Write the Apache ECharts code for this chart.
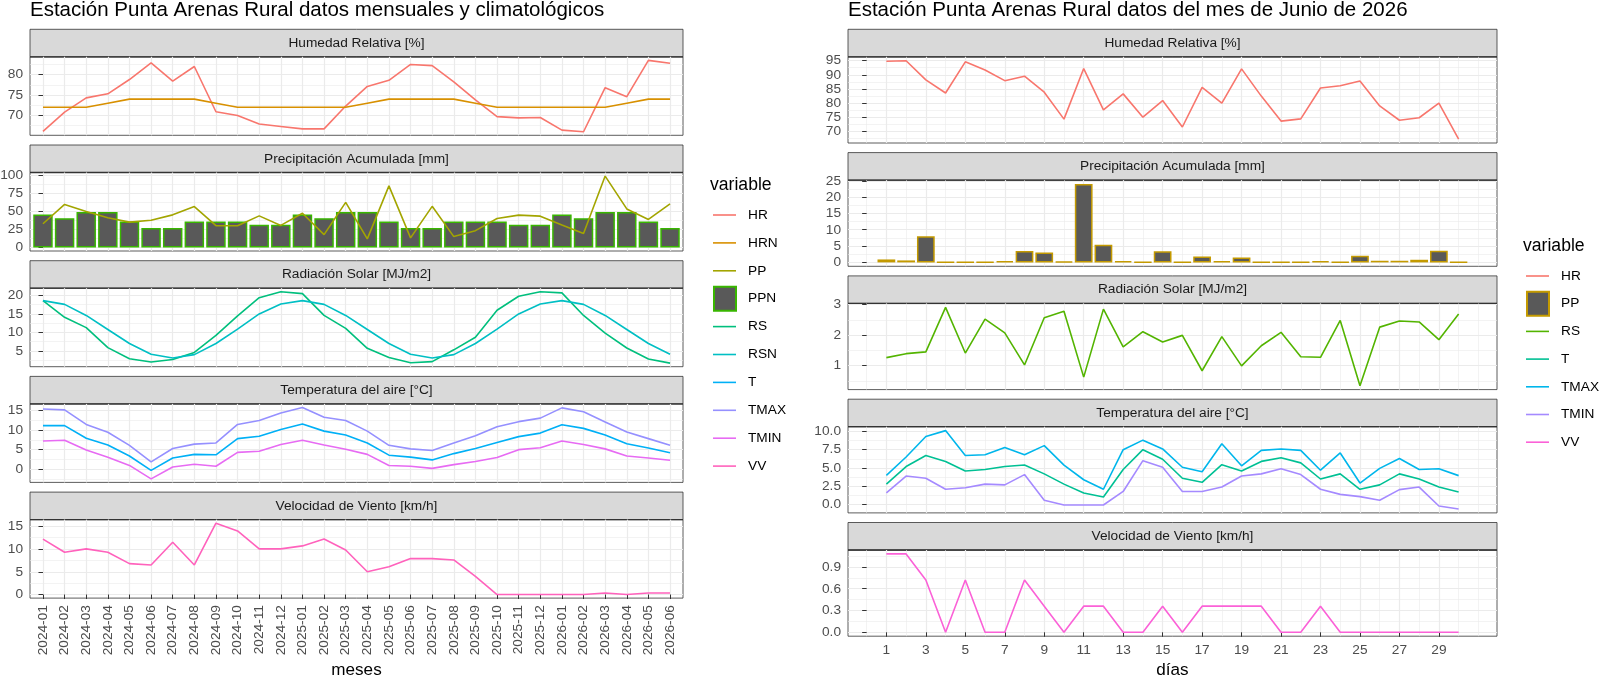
<!DOCTYPE html>
<html>
<head>
<meta charset="utf-8">
<title>Estación Punta Arenas Rural</title>
<script src="https://cdn.jsdelivr.net/npm/echarts@6/dist/echarts.min.js"></script>
<style>
html, body { margin: 0; padding: 0; background: #fff; }
#chart { width: 1600px; height: 676px; }
</style>
</head>
<body>
<div id="chart"></div>
<script>
// ---------- datos mensuales ----------
var months = ['2024-01','2024-02','2024-03','2024-04','2024-05','2024-06','2024-07','2024-08','2024-09','2024-10','2024-11','2024-12',
              '2025-01','2025-02','2025-03','2025-04','2025-05','2025-06','2025-07','2025-08','2025-09','2025-10','2025-11','2025-12',
              '2026-01','2026-02','2026-03','2026-04','2026-05','2026-06'];
var hrMes   = [66.1, 70.8, 74.3, 75.3, 78.8, 82.9, 78.4, 82.0, 70.9, 70.0, 67.9, 67.3, 66.7, 66.7, 72.3, 77.1, 78.6, 82.5, 82.2, 78.2, 73.8, 69.7, 69.4, 69.5, 66.4, 66.0, 76.8, 74.6, 83.5, 82.8];
var hrnMes  = [72, 72, 72, 73, 74, 74, 74, 74, 73, 72, 72, 72, 72, 72, 72, 73, 74, 74, 74, 74, 73, 72, 72, 72, 72, 72, 72, 73, 74, 74];
var ppMes   = [33, 60, 50, 41.3, 35.3, 38, 45.4, 56.9, 30.3, 30.3, 44, 30.7, 47.7, 17.9, 62.8, 11.9, 85.8, 13.3, 57.3, 15.1, 23.4, 40.4, 45, 43.6, 31.2, 19.3, 99.5, 53.7, 39, 60.6];
var ppnMes  = [45.9, 40.8, 49.5, 49.5, 36, 27, 27, 36, 36, 36, 31.7, 31.7, 45.9, 40.8, 49.5, 49.5, 36, 27, 27, 36, 36, 36, 31.7, 31.7, 45.9, 40.8, 49.5, 49.5, 36, 27];
var rsMes   = [18.6, 14.1, 11.3, 5.9, 2.9, 2.0, 2.7, 4.6, 9.2, 14.5, 19.4, 21.0, 20.5, 14.6, 11.1, 5.7, 3.2, 1.8, 2.1, 5.3, 8.7, 16.0, 19.8, 21.0, 20.7, 14.6, 9.8, 5.8, 2.8, 1.7];
var rsnMes  = [18.6, 17.6, 14.6, 10.8, 7.0, 4.1, 3.1, 4.0, 7.0, 10.9, 15.0, 17.7, 18.6, 17.6, 14.6, 10.8, 7.0, 4.1, 3.1, 4.0, 7.0, 10.9, 15.0, 17.7, 18.6, 17.6, 14.6, 10.8, 7.0, 4.1];
var tMes    = [11.1, 11.1, 7.9, 6.2, 3.4, -0.25, 2.9, 3.8, 3.7, 7.8, 8.4, 10.1, 11.5, 9.7, 8.7, 6.7, 3.6, 3.1, 2.4, 4.0, 5.3, 6.8, 8.3, 9.2, 11.3, 10.4, 8.7, 6.5, 5.4, 4.2];
var tmaxMes = [15.3, 15.1, 11.4, 9.4, 6.1, 1.9, 5.3, 6.4, 6.7, 11.4, 12.4, 14.3, 15.7, 13.2, 12.4, 9.7, 6.1, 5.2, 4.8, 6.7, 8.5, 10.8, 12.1, 13.0, 15.6, 14.6, 12.0, 9.5, 7.8, 6.1];
var tminMes = [7.2, 7.4, 4.9, 3.1, 1.0, -2.4, 0.6, 1.3, 0.8, 4.3, 4.6, 6.3, 7.4, 6.2, 5.1, 3.8, 1.0, 0.8, 0.25, 1.2, 2.0, 3.0, 5.0, 5.5, 7.2, 6.3, 5.2, 3.4, 2.9, 2.3];
var vvMes   = [12.2, 9.3, 10.05, 9.3, 6.8, 6.5, 11.5, 6.5, 15.7, 14.0, 10.05, 10.05, 10.7, 12.2, 9.8, 5.0, 6.1, 7.9, 7.9, 7.6, 4.0, 0, 0, 0, 0, 0, 0.35, 0, 0.35, 0.35];

// ---------- datos diarios (junio 2026) ----------
var dias    = [1,2,3,4,5,6,7,8,9,10,11,12,13,14,15,16,17,18,19,20,21,22,23,24,25,26,27,28,29,30];
var hrDia   = [94.8, 95.0, 88.2, 83.5, 94.6, 91.7, 87.9, 89.5, 83.8, 74.2, 92.2, 77.5, 83.2, 74.9, 80.8, 71.4, 85.5, 79.9, 92.1, 82.4, 73.5, 74.3, 85.3, 86.1, 87.8, 78.9, 73.8, 74.7, 79.9, 67.1];
var ppDia   = [0.9, 0.6, 8.0, 0.1, 0.1, 0.1, 0.4, 3.5, 3.0, 0.3, 24.0, 5.4, 0.4, 0.1, 3.4, 0.1, 1.8, 0.4, 1.5, 0.1, 0.1, 0.1, 0.4, 0.1, 2.0, 0.5, 0.5, 0.8, 3.6, 0.1];
var rsDia   = [1.26, 1.39, 1.45, 2.91, 1.41, 2.52, 2.07, 1.02, 2.57, 2.78, 0.62, 2.85, 1.61, 2.11, 1.77, 1.99, 0.83, 1.95, 0.99, 1.65, 2.09, 1.29, 1.27, 2.48, 0.34, 2.26, 2.46, 2.43, 1.85, 2.69];
var tDia    = [2.8, 5.2, 6.7, 5.9, 4.6, 4.8, 5.2, 5.4, 4.2, 2.8, 1.6, 1.05, 4.8, 7.5, 6.2, 3.6, 3.05, 5.45, 4.6, 5.9, 6.4, 5.7, 3.5, 4.2, 2.1, 2.7, 4.2, 3.5, 2.4, 1.73];
var tmaxDia = [4.0, 6.5, 9.3, 10.1, 6.7, 6.8, 7.8, 6.8, 8.05, 5.4, 3.4, 2.1, 7.5, 8.8, 7.6, 5.1, 4.5, 8.3, 5.3, 7.4, 7.6, 7.4, 4.7, 7.05, 2.95, 4.95, 6.3, 4.8, 4.9, 3.96];
var tminDia = [1.6, 3.9, 3.6, 2.1, 2.3, 2.8, 2.7, 4.1, 0.6, -0.05, -0.05, -0.05, 1.8, 6.0, 5.1, 1.8, 1.8, 2.4, 3.9, 4.2, 4.9, 4.1, 2.1, 1.4, 1.1, 0.6, 2.05, 2.4, -0.18, -0.59];
var vvDia   = [1.08, 1.08, 0.72, 0, 0.72, 0, 0, 0.72, 0.36, 0, 0.36, 0.36, 0, 0, 0.36, 0, 0.36, 0.36, 0.36, 0.36, 0, 0, 0.36, 0, 0, 0, 0, 0, 0, 0];

// ---------- marcas de los ejes ----------
var yTicksMes = [[70, 75, 80], [0, 25, 50, 75, 100], [5, 10, 15, 20], [0, 5, 10, 15], [0, 5, 10, 15]];
var yTicksDia = [[70, 75, 80, 85, 90, 95], [0, 5, 10, 15, 20, 25], [1, 2, 3], [0, 2.5, 5, 7.5, 10], [0, 0.3, 0.6, 0.9]];
var xTicksDia = [1, 3, 5, 7, 9, 11, 13, 15, 17, 19, 21, 23, 25, 27, 29];
var xMinorDia = [0, 2, 4, 6, 8, 10, 12, 14, 16, 18, 20, 22, 24, 26, 28, 30, 31];

var FONT = '"Liberation Sans", Arial, sans-serif';

var facetsMes = [
    {titulo: 'Humedad Relativa [%]', dec: 0, series: [{n: 'HR', d: hrMes, c: '#F8766D'}, {n: 'HRN', d: hrnMes, c: '#D89000'}]},
    {titulo: 'Precipitación Acumulada [mm]', dec: 0, series: [{n: 'PPN', d: ppnMes, c: '#39B600', bar: true}, {n: 'PP', d: ppMes, c: '#A3A500'}]},
    {titulo: 'Radiación Solar [MJ/m2]', dec: 0, series: [{n: 'RS', d: rsMes, c: '#00BF7D'}, {n: 'RSN', d: rsnMes, c: '#00BFC4'}]},
    {titulo: 'Temperatura del aire [°C]', dec: 0, series: [{n: 'T', d: tMes, c: '#00B0F6'}, {n: 'TMAX', d: tmaxMes, c: '#9590FF'}, {n: 'TMIN', d: tminMes, c: '#E76BF3'}]},
    {titulo: 'Velocidad de Viento [km/h]', dec: 0, series: [{n: 'VV', d: vvMes, c: '#FF62BC'}]}
];
var facetsDia = [
    {titulo: 'Humedad Relativa [%]', dec: 0, series: [{n: 'HR', d: hrDia, c: '#F8766D'}]},
    {titulo: 'Precipitación Acumulada [mm]', dec: 0, series: [{n: 'PP', d: ppDia, c: '#C49A00', bar: true}]},
    {titulo: 'Radiación Solar [MJ/m2]', dec: 0, series: [{n: 'RS', d: rsDia, c: '#53B400'}]},
    {titulo: 'Temperatura del aire [°C]', dec: 1, series: [{n: 'T', d: tDia, c: '#00C094'}, {n: 'TMAX', d: tmaxDia, c: '#00B6EB'}, {n: 'TMIN', d: tminDia, c: '#A58AFF'}]},
    {titulo: 'Velocidad de Viento [km/h]', dec: 1, series: [{n: 'VV', d: vvDia, c: '#FB61D7'}]}
];

// rango con expansion del 5% (como ggplot)
function rango(arrs, conCero) {
    var lo = Infinity, hi = -Infinity;
    arrs.forEach(function (a) {
        a.forEach(function (v) { lo = Math.min(lo, v); hi = Math.max(hi, v); });
    });
    if (conCero) { lo = Math.min(lo, 0); hi = Math.max(hi, 0); }
    var e = (hi - lo) * 0.05;
    return [lo - e, hi + e];
}

// lineas menores a mitad de camino entre marcas
function menores(ticks, r) {
    var paso = (ticks[1] - ticks[0]) / 2;
    var out = [];
    for (var k = -2; k <= (ticks.length - 1) * 2 + 2; k++) {
        if (k % 2 === 0 && k >= 0 && k <= (ticks.length - 1) * 2) continue;
        var v = Math.round((ticks[0] + k * paso) * 1e6) / 1e6;
        if (v >= r[0] && v <= r[1]) out.push(v);
    }
    return out;
}

var grids = [], xAxes = [], yAxes = [], series = [], graphics = [];

function armarPanel(pref, facets, yTicks, panel, xs, eje) {
    facets.forEach(function (f, i) {
        var stripTop = panel.top0 + i * panel.step;
        var plotTop = stripTop + panel.strip;
        var g = grids.length;
        var ultimo = i === facets.length - 1;
        grids.push({
            left: panel.x, top: plotTop, width: panel.w, height: panel.h,
            show: true, backgroundColor: '#fff', borderColor: '#333', borderWidth: 0.8,
            outerBoundsMode: 'none'
        });

        var xi = xAxes.length;
        xAxes.push({
            gridIndex: g, type: 'value', min: eje.min, max: eje.max, position: 'bottom',
            axisLine: {show: false},
            axisTick: {show: ultimo, customValues: eje.major, length: 4.5, lineStyle: {color: '#333', width: 1}},
            axisLabel: {
                show: ultimo, customValues: eje.major, formatter: eje.fmt, rotate: eje.rotate,
                margin: 7, color: '#4D4D4D', fontSize: 13.7, fontFamily: FONT
            },
            splitLine: {show: true, lineStyle: {color: '#EBEBEB', width: 1.2}}
        });
        if (eje.minor) {
            xAxes.push({
                gridIndex: g, type: 'value', min: eje.min, max: eje.max, position: 'top',
                axisLine: {show: false}, axisTick: {show: false, customValues: eje.minor},
                axisLabel: {show: false},
                splitLine: {show: true, lineStyle: {color: '#EBEBEB', width: 0.6}}
            });
        }

        var r = rango(f.series.map(function (s) { return s.d; }), f.series.some(function (s) { return s.bar; }));
        var ticks = yTicks[i];
        var yi = yAxes.length;
        yAxes.push({
            gridIndex: g, type: 'value', min: r[0], max: r[1], position: 'left',
            axisLine: {show: false},
            axisTick: {show: true, customValues: ticks, length: 4.5, lineStyle: {color: '#333', width: 1}},
            axisLabel: {
                customValues: ticks, margin: 7, color: '#4D4D4D', fontSize: 13.7, fontFamily: FONT,
                formatter: function (v) { return v.toFixed(f.dec); }
            },
            splitLine: {show: true, lineStyle: {color: '#EBEBEB', width: 1.2}}
        });
        yAxes.push({
            gridIndex: g, type: 'value', min: r[0], max: r[1], position: 'right',
            axisLine: {show: false}, axisTick: {show: false, customValues: menores(ticks, r)},
            axisLabel: {show: false},
            splitLine: {show: true, lineStyle: {color: '#EBEBEB', width: 0.6}}
        });

        f.series.forEach(function (s) {
            var pares = s.d.map(function (v, j) { return [xs[j], v]; });
            if (s.bar) {
                series.push({
                    type: 'bar', name: pref + s.n, xAxisIndex: xi, yAxisIndex: yi, data: pares,
                    barWidth: '90%', silent: true, z: 2,
                    itemStyle: {color: '#595959', borderColor: s.c, borderWidth: 1.5}
                });
            } else {
                series.push({
                    type: 'line', name: pref + s.n, xAxisIndex: xi, yAxisIndex: yi, data: pares,
                    symbol: 'none', silent: true, z: 3,
                    lineStyle: {color: s.c, width: 1.6}, itemStyle: {color: s.c}
                });
            }
        });

        // franja del titulo de la faceta
        graphics.push({
            type: 'rect', silent: true,
            shape: {x: panel.x, y: stripTop, width: panel.w, height: panel.strip},
            style: {fill: '#D9D9D9', stroke: '#333', lineWidth: 0.8}
        });
        graphics.push({
            type: 'line', silent: true,
            shape: {x1: panel.x, y1: plotTop, x2: panel.x + panel.w, y2: plotTop},
            style: {stroke: '#333', lineWidth: 1.3}
        });
        graphics.push({
            type: 'text', silent: true, x: panel.x + panel.w / 2, y: stripTop + panel.strip / 2,
            style: {text: f.titulo, fill: '#1A1A1A', fontSize: 13.7, fontFamily: FONT, align: 'center', verticalAlign: 'middle'}
        });
    });
}

var panelMes = {x: 30, w: 653, top0: 29.3, step: 115.7, strip: 27.5, h: 78.5};
var panelDia = {x: 848, w: 649, top0: 29.3, step: 123.3, strip: 27.5, h: 86.2};

armarPanel('L:', facetsMes, yTicksMes, panelMes, months.map(function (m, i) { return i; }), {
    min: -0.6, max: months.length - 0.4,
    major: months.map(function (m, i) { return i; }), minor: null, rotate: 90,
    fmt: function (v) { return months[Math.round(v)]; }
});
armarPanel('R:', facetsDia, yTicksDia, panelDia, dias, {
    min: -0.945, max: 31.945, major: xTicksDia, minor: xMinorDia, rotate: 0,
    fmt: function (v) { return String(v); }
});

function texto(t, x, y, size, align) {
    return {
        type: 'text', silent: true, x: x, y: y,
        style: {text: t, fill: '#000', fontSize: size, fontFamily: FONT, align: align || 'left', verticalAlign: 'middle'}
    };
}
graphics.push(texto('Estación Punta Arenas Rural datos mensuales y climatológicos', 30, 10, 20.5));
graphics.push(texto('Estación Punta Arenas Rural datos del mes de Junio de 2026', 848, 10, 20.5));
graphics.push(texto('meses', panelMes.x + panelMes.w / 2, 670, 17.1, 'center'));
graphics.push(texto('días', panelDia.x + panelDia.w / 2, 670, 17.1, 'center'));

// leyendas (ggplot: titulo "variable" y claves ordenadas alfabeticamente)
function leyenda(facets, x, yTitulo, y0, paso) {
    graphics.push(texto('variable', x - 3, yTitulo, 17.6));
    var items = [];
    facets.forEach(function (f) { f.series.forEach(function (s) { items.push(s); }); });
    items.sort(function (a, b) { return a.n < b.n ? -1 : a.n > b.n ? 1 : 0; });
    items.forEach(function (s, k) {
        var y = y0 + k * paso;
        if (s.bar) {
            graphics.push({
                type: 'rect', silent: true,
                shape: {x: x + 1, y: y - 12, width: 22, height: 24},
                style: {fill: '#595959', stroke: s.c, lineWidth: 2}
            });
        } else {
            graphics.push({
                type: 'line', silent: true,
                shape: {x1: x, y1: y, x2: x + 23, y2: y},
                style: {stroke: s.c, lineWidth: 1.6}
            });
        }
        graphics.push({
            type: 'text', silent: true, x: x + 35, y: y,
            style: {text: s.n, fill: '#000', fontSize: 13.7, fontFamily: FONT, align: 'left', verticalAlign: 'middle'}
        });
    });
}
leyenda(facetsMes, 713, 185, 215, 27.9);
leyenda(facetsDia, 1526, 246, 276, 27.7);

var option = {
    animation: false,
    backgroundColor: '#fff',
    grid: grids,
    xAxis: xAxes,
    yAxis: yAxes,
    graphic: graphics,
    series: series
};

var myChart = echarts.init(document.getElementById('chart'));
option && myChart.setOption(option);
</script>
</body>
</html>
